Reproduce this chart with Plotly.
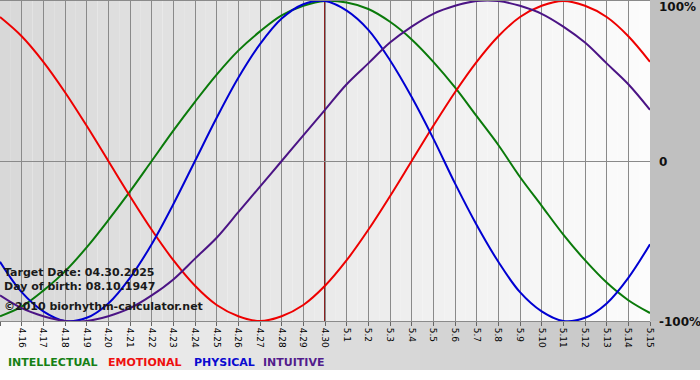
import plotly.graph_objects as go

# ---- data ----
dates = ["4.15", "4.16", "4.17", "4.18", "4.19", "4.20", "4.21", "4.22", "4.23", "4.24",
         "4.25", "4.26", "4.27", "4.28", "4.29", "4.30", "5.1", "5.2", "5.3", "5.4",
         "5.5", "5.6", "5.7", "5.8", "5.9", "5.10", "5.11", "5.12", "5.13", "5.14", "5.15"]
intellectual = [-97, -91, -81, -69, -54, -37, -19, 0, 19, 37, 54, 69, 81, 91, 97, 100,
                99, 95, 87, 76, 62, 46, 28, 10, -10, -28, -46, -62, -76, -87, -95]
emotional = [90, 78, 62, 43, 22, 0, -22, -43, -62, -78, -90, -97, -100, -97, -90, -78,
             -62, -43, -22, 0, 22, 43, 62, 78, 90, 97, 100, 97, 90, 78, 62]
physical = [-63, -82, -94, -100, -98, -89, -73, -52, -27, 0, 27, 52, 73, 89, 98, 100,
            94, 82, 63, 40, 14, -14, -40, -63, -82, -94, -100, -98, -89, -73, -52]
intuitive = [-84, -92, -97, -100, -100, -97, -92, -84, -74, -61, -48, -32, -16, 0, 16, 32,
             48, 61, 74, 84, 92, 97, 100, 100, 97, 92, 84, 74, 61, 48, 32]
series_names = ["INTELLECTUAL", "EMOTIONAL", "PHYSICAL", "INTUITIVE"]
target_label = "4.30"
y_labels = ["100%", "0", "-100%"]
y_label_vals = [100, 0, -100]
info_lines = ["Target Date: 04.30.2025", "Day of birth: 08.10.1947", "\u00a92010 biorhythm-calculator.net"]

# ---- layout geometry ----
W, H = 700, 380
ML, MR, MT, MB = 0, 50, 1, 59
PW, PH = W - ML - MR, H - MT - MB


def px_x(px):
    return (px - ML) / PW


def px_y(py):
    return (H - MB - py) / PH


FONT = "DejaVu Sans"
GRID = "#8a8a8a"
colors = ["#0a7a0a", "#ee0000", "#0000d2", "#4b1485"]
legend_colors = ["#158015", "#ee1010", "#0a0ad0", "#531c8c"]

xs = list(range(len(dates)))
fig = go.Figure()
for name, vals, col in zip(series_names, [intellectual, emotional, physical, intuitive], colors):
    fig.add_trace(go.Scatter(x=xs, y=vals, mode="lines", name=name,
                             line=dict(color=col, width=2, shape="spline"),
                             hoverinfo="skip", showlegend=False))

shapes = []
# plot-area gradient (dark left -> light right)
n = 60
for i in range(n):
    c = int(round(216 + (252 - 216) * (i + 0.5) / n))
    shapes.append(dict(type="rect", xref="paper", yref="paper", x0=i / n, x1=(i + 1) / n,
                       y0=0, y1=1, fillcolor=f"rgb({c},{c},{c})", line=dict(width=0), layer="below"))
# bottom band gradient (light left -> dark right)
n2 = 70
for i in range(n2):
    c = int(round(248 - (248 - 192) * (i + 0.5) / n2))
    shapes.append(dict(type="rect", xref="paper", yref="paper",
                       x0=px_x(i * W / n2), x1=px_x((i + 1) * W / n2),
                       y0=px_y(370), y1=0, fillcolor=f"rgb({c},{c},{c})", line=dict(width=0), layer="below"))
# right margin
shapes.append(dict(type="rect", xref="paper", yref="paper", x0=1, x1=px_x(W + 2),
                   y0=0, y1=px_y(-2), fillcolor="#c0c0c0", line=dict(width=0), layer="below"))
# target date line
ti = dates.index(target_label)
shapes.append(dict(type="line", xref="x", yref="paper", x0=ti, x1=ti, y0=0, y1=1,
                   line=dict(color="#8b2020", width=2), layer="between"))

annotations = []
for txt, v, py in zip(y_labels, y_label_vals, [7, 162, 322]):
    annotations.append(dict(text=f"<b>{txt}</b>", xref="paper", yref="paper", x=px_x(657), y=px_y(py),
                            xanchor="left", yanchor="middle", showarrow=False,
                            font=dict(family=FONT, size=12, color="#111111")))
for txt, py in zip(info_lines, [272, 286, 306]):
    annotations.append(dict(text=f"<b>{txt}</b>", xref="paper", yref="paper", x=px_x(2), y=px_y(py),
                            xanchor="left", yanchor="middle", showarrow=False,
                            font=dict(family=FONT, size=11, color="#1a1a1a")))
for txt, col, px in zip(series_names, legend_colors, [6, 106, 192, 261]):
    annotations.append(dict(text=f"<b>{txt}</b>", xref="paper", yref="paper", x=px_x(px), y=px_y(362),
                            xanchor="left", yanchor="middle", showarrow=False,
                            font=dict(family=FONT, size=11, color=col)))

fig.update_layout(
    width=W, height=H, template="none",
    margin=dict(l=ML, r=MR, t=MT, b=MB, pad=0),
    paper_bgcolor="white", plot_bgcolor="rgba(0,0,0,0)",
    shapes=shapes, annotations=annotations, showlegend=False,
    xaxis=dict(range=[0, len(dates) - 1], tickvals=xs, ticktext=dates, tickangle=90,
               showgrid=True, gridcolor=GRID, gridwidth=1, zeroline=False,
               ticks="outside", ticklen=4, tickcolor="#666666", tickwidth=1,
               tickfont=dict(family=FONT, size=9, color="#000000"),
               showline=True, linecolor=GRID, linewidth=1, mirror=True,
               automargin=False, fixedrange=True),
    yaxis=dict(range=[-100, 100], tickvals=y_label_vals, showticklabels=False,
               showgrid=True, gridcolor=GRID, gridwidth=1,
               zeroline=True, zerolinecolor=GRID, zerolinewidth=1,
               ticks="", showline=False, automargin=False, fixedrange=True),
)

fig.write_html("out.html", config={"displayModeBar": False},
               post_script="document.body.style.margin='0px';document.body.style.overflow='hidden';")
